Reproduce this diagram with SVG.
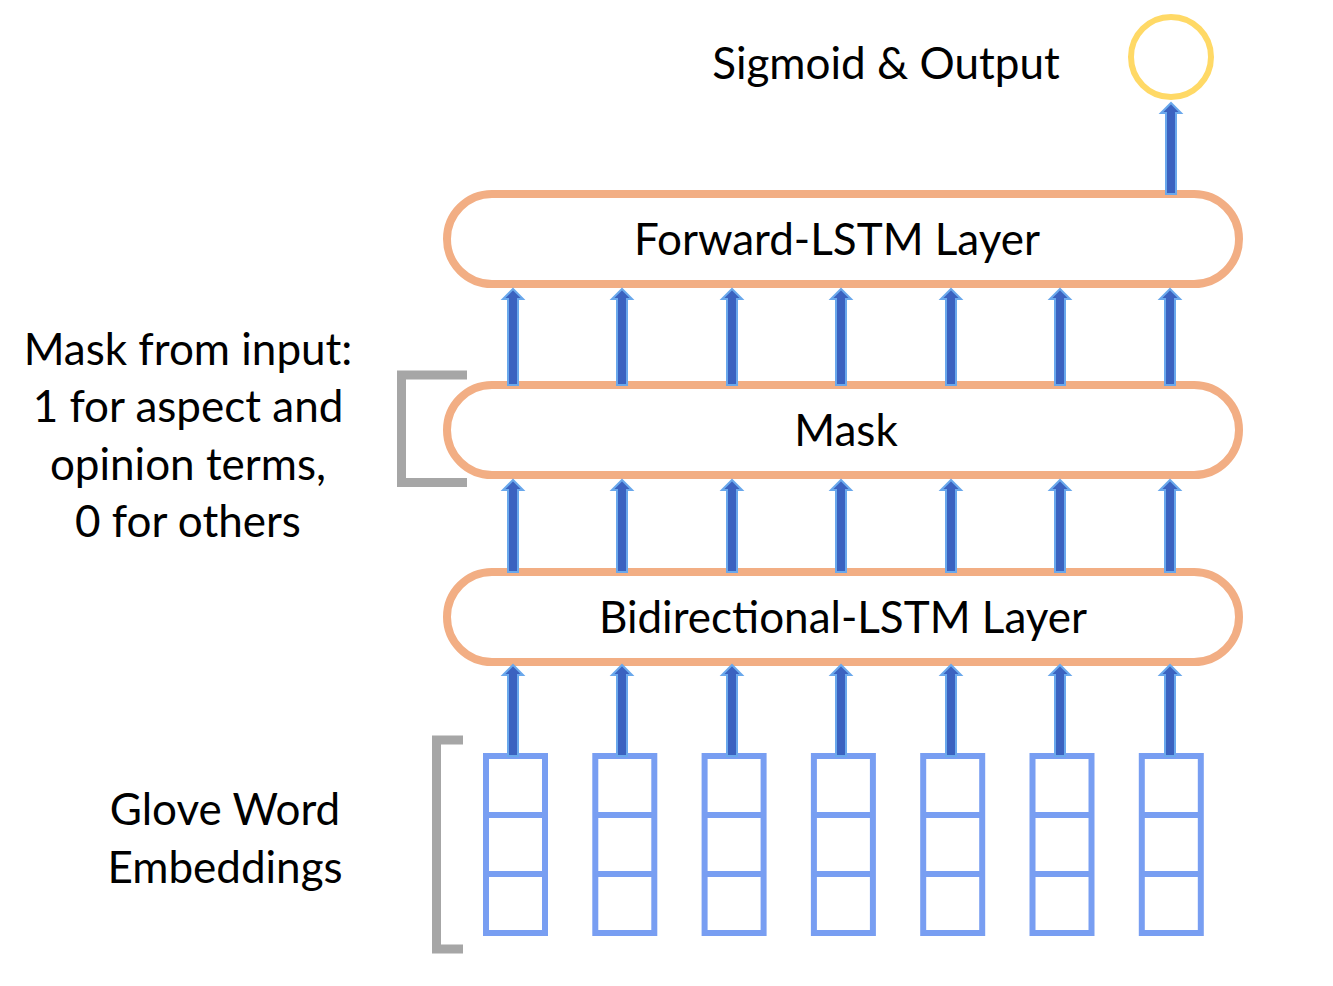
<svg xmlns="http://www.w3.org/2000/svg" width="1333" height="986" viewBox="0 0 1333 986">
<defs>
<style>
text{font-family:"Lato","Liberation Sans",sans-serif;font-size:44px;fill:#000;text-anchor:middle}
.layer{fill:#fff;stroke:#F2AE84;stroke-width:8}
.cell{fill:#fff;stroke:#789EF2;stroke-width:6}
.bracket{fill:none;stroke:#A6A6A6;stroke-width:9}
.arr{fill:#3B62C0;stroke:#6AA8EC;stroke-width:2;stroke-linejoin:miter}
</style>
<path id="a1" d="M-5,91 V10 H-10 L0,0 L10,10 H5 V91 Z"/>
<path id="a2" d="M-5,92 V10 H-10 L0,0 L10,10 H5 V92 Z"/>
<path id="a3" d="M-5,96 V10 H-10 L0,0 L10,10 H5 V96 Z"/>
</defs>
<rect width="1333" height="986" fill="#fff"/>

<g id="brackets">
<path class="bracket" d="M467,375 H401.5 V482.5 H467"/>
<path class="bracket" d="M463,740 H436.5 V949 H463"/>
</g>

<g id="output">
<circle cx="1171" cy="57" r="40" fill="#fff" stroke="#FFD966" stroke-width="6"/>
<text x="886" y="79">Sigmoid &amp; Output</text>
</g>

<g id="forward-lstm">
<rect class="layer" x="447" y="194" width="792" height="90" rx="45"/>
<text x="837" y="255">Forward-LSTM Layer</text>
</g>

<g id="mask">
<rect class="layer" x="447" y="385" width="792" height="90" rx="45"/>
<text x="846" y="446">Mask</text>
</g>

<g id="bilstm">
<rect class="layer" x="447" y="572" width="792" height="90" rx="45"/>
<text x="843" y="633">Bidirectional-LSTM Layer</text>
</g>

<g id="embeddings">
<g class="cell">
<rect x="486" y="756" width="59" height="177"/><path d="M486,815 H545 M486,874 H545"/>
<rect x="595.3" y="756" width="59" height="177"/><path d="M595.3,815 H654.3 M595.3,874 H654.3"/>
<rect x="704.6" y="756" width="59" height="177"/><path d="M704.6,815 H763.6 M704.6,874 H763.6"/>
<rect x="813.9" y="756" width="59" height="177"/><path d="M813.9,815 H872.9 M813.9,874 H872.9"/>
<rect x="923.2" y="756" width="59" height="177"/><path d="M923.2,815 H982.2 M923.2,874 H982.2"/>
<rect x="1032.5" y="756" width="59" height="177"/><path d="M1032.5,815 H1091.5 M1032.5,874 H1091.5"/>
<rect x="1141.8" y="756" width="59" height="177"/><path d="M1141.8,815 H1200.8 M1141.8,874 H1200.8"/>
</g>
</g>

<g id="label-mask">
<text x="188" y="365">Mask from input:</text>
<text x="188" y="422">1 for aspect and</text>
<text x="188" y="480">opinion terms,</text>
<text x="188" y="537">0 for others</text>
</g>

<g id="label-glove">
<text x="225" y="825">Glove Word</text>
<text x="225" y="883">Embeddings</text>
</g>

<g id="connectors" class="arr">
<use href="#a1" x="513" y="665"/>
<use href="#a1" x="622" y="665"/>
<use href="#a1" x="732" y="665"/>
<use href="#a1" x="841" y="665"/>
<use href="#a1" x="951" y="665"/>
<use href="#a1" x="1060" y="665"/>
<use href="#a1" x="1170" y="665"/>
<use href="#a2" x="513" y="480"/>
<use href="#a2" x="622" y="480"/>
<use href="#a2" x="732" y="480"/>
<use href="#a2" x="841" y="480"/>
<use href="#a2" x="951" y="480"/>
<use href="#a2" x="1060" y="480"/>
<use href="#a2" x="1170" y="480"/>
<use href="#a3" x="513" y="289"/>
<use href="#a3" x="622" y="289"/>
<use href="#a3" x="732" y="289"/>
<use href="#a3" x="841" y="289"/>
<use href="#a3" x="951" y="289"/>
<use href="#a3" x="1060" y="289"/>
<use href="#a3" x="1170" y="289"/>
<use href="#a1" x="1171" y="103"/>
</g>
</svg>
